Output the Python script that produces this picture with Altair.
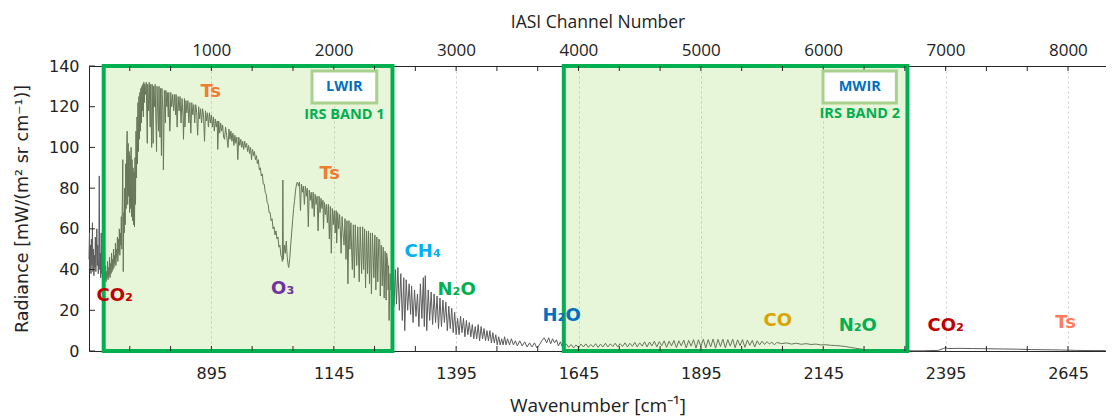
import altair as alt
import pandas as pd

# ---------------- spectrum: (wavenumber cm-1, radiance) ----------------
seg_start = [(645,45),(646,58),(647,40),(648,52),(649,38),(650,55),(651,42),(652,63),(653,39),(654,50),
             (655,37),(656,47),(657,41),(658,56),(659,39),(660,49),(661,60),(662,42),(663,52),(664,38),
             (665,46),(666,86),(667,40),(668,48),(669,36),(670,58),(671,38),(672,45),(673,35),(674,42)]

seg_co2 = [(675,38),(676,34),(677,40),(678,35),(679,42),(680,34),(681,39),(682,36),(683,44),(684,35),
           (685,41),(686,37),(687,46),(688,36),(689,43),(690,38),(691,48),(692,39),(693,45),(694,40),
           (695,50),(696,41),(697,47),(698,43),(699,53),(700,42),(701,50),(702,46),(703,56),(704,44),
           (705,55),(706,48),(707,60),(708,47),(709,58),(710,52),(711,66),(712,50),(713,72),(714,94),
           (715,39),(716,68),(717,58),(718,80),(719,62),(720,92),(721,70),(722,100),(723,108),(724,72),
           (725,102),(726,76),(727,98),(728,68),(729,96),(730,70),(731,100),(732,66),(733,94),(734,64),
           (735,90),(736,62),(737,88),(738,61),(739,95),(740,72),(741,108),(742,85),(743,115),(744,92),
           (745,122),(746,98),(747,125),(748,104),(749,127),(750,108),(751,129),(752,112),(753,130),
           (754,118),(755,131),(756,115),(757,132),(758,122),(759,131),(760,126)]

seg_window = [(762,132),(764,102),(765,131),(767,118),(768,132),(770,110),(771,131),(773,100),(774,131),
              (776,102),(777,130),(779,120),(780,131),(782,110),(783,98),(784,130),(786,115),(787,108),
              (788,130),(790,105),(791,129),(793,96),(794,129),(796,118),(797,89),(799,128),(801,112),
              (802,128),(804,120),(805,127),(807,115),(808,127),(810,108),(811,113),(812,127),(814,120),
              (816,126),(818,118),(820,126),(822,116),(823,126),(825,110),(827,125),(829,118),(831,125),
              (833,112),(835,124),(837,116),(838,104),(840,124),(841,110),(843,123),(845,117),(847,123),
              (849,112),(851,122),(853,107),(855,122),(857,116),(859,121),(861,112),(863,121),(865,117),
              (867,106),(869,120),(871,114),(873,119),(875,112),(877,119),(879,116),(881,103),(883,118),
              (885,113),(887,117),(889,110),(891,117),(893,112),(895,116),(897,110),(899,115),(901,108),
              (903,114),(905,110),(907,113),(908,99),(910,113),(912,107),(914,112),(916,108),(918,111),
              (920,105),(922,104),(924,110),(926,106),(929,100),(931,109),(933,104),(935,108),(937,103),
              (939,107),(941,101),(943,106),(945,102),(947,105),(949,94),(951,105),(953,101),(955,104),
              (957,100),(959,103)]

seg_o3 = [(961,99),(963,103),(965,100),(967,102),(969,98),(971,101),(973,97),(975,100),(977,94),(979,99),
          (981,96),(983,98),(985,94),(987,96),(989,92),(991,94),(993,89),(995,90),(997,86),(999,87),
          (1001,82),(1003,82),(1005,78),(1007,77),(1009,73),(1011,72),(1013,68),(1015,68),(1017,64),
          (1019,65),(1021,60),(1023,61),(1025,57),(1027,59),(1029,55),(1031,56),(1033,51),(1035,52),
          (1037,47),(1039,46),(1040,44),(1041,84),(1042,45),(1044,52),(1046,48),(1048,54),(1050,46),
          (1052,42),(1053,41),(1055,45),(1057,52),(1059,58),(1061,64),(1063,70),(1065,74),(1067,79),
          (1069,82),(1071,83),(1073,81),(1075,83)]

seg_lw_tail = [(1077,69),(1079,82),(1081,78),(1083,81),(1085,72),(1087,81),(1089,76),(1091,80),(1093,61),
               (1095,79),(1097,74),(1099,78),(1101,70),(1103,78),(1105,66),(1107,77),(1109,72),(1111,76),
               (1113,59),(1115,76),(1117,68),(1119,75),(1121,70),(1123,74),(1124,60),(1126,73),(1128,67),
               (1130,72),(1132,63),(1134,72),(1136,55),(1138,71),(1140,48),(1142,70),(1144,62),(1146,69),
               (1148,58),(1150,69),(1151,53),(1153,68),(1155,60),(1157,67),(1159,56),(1160,48),(1162,66),
               (1164,58),(1166,52),(1168,65),(1170,45),(1172,64),(1174,33),(1176,64),(1178,50),(1180,63),
               (1182,46),(1183,40),(1185,62),(1187,36),(1189,62),(1191,48),(1192,42),(1194,61),(1197,34),
               (1199,61),(1201,45),(1202,38),(1204,61),(1206,40),(1208,60),(1210,31),(1212,59),(1214,38),
               (1216,59),(1218,33),(1220,58),(1222,28),(1224,58),(1226,44),(1227,36),(1229,57),(1231,30),
               (1233,56),(1235,34),(1237,55),(1239,54),(1240,27),(1242,52),(1244,32),(1246,51),(1248,26),
               (1250,49),(1252,25),(1253,48),(1255,44),(1256,30),(1257,42),(1258,15),(1260,38),(1262,30),
               (1264,36)]

seg_ch4_n2o = [(1265,38),(1268,22),(1271,40),(1273,23),(1276,41),(1279,20),(1282,38),(1285,15),(1288,36),
               (1290,10),(1293,35),(1296,20),(1299,33),(1302,18),(1304,32),(1307,14),(1310,30),(1313,17),
               (1316,28),(1319,12),(1322,33),(1325,16),(1328,36),(1330,12),(1332,37),(1335,10),(1338,30),
               (1341,15),(1344,29),(1347,13),(1350,28),(1353,14),(1356,27),(1359,11),(1362,26),(1365,12),
               (1368,25),(1371,14),(1374,24),(1377,10),(1380,22),(1383,11),(1386,21),(1389,9),(1392,19),
               (1395,8),(1398,16),(1401,8),(1404,17),(1407,9),(1410,16),(1413,7),(1416,15),(1419,8),
               (1422,14),(1425,7),(1428,13),(1431,6),(1434,12),(1437,6),(1440,13),(1443,5),(1446,12),
               (1449,6),(1452,11),(1455,5),(1458,10),(1461,5),(1464,10),(1467,4),(1470,9),(1473,4),
               (1476,8),(1479,3),(1482,7),(1485,3),(1488,6),(1491,3),(1494,7),(1497,3),(1500,6),(1504,3),
               (1508,6),(1512,3),(1516,5),(1520,2.5),(1525,5),(1530,2.5),(1535,4.5),(1540,2),(1545,4),
               (1550,2),(1555,4),(1560,1.5),(1565,3),(1570,5),(1575,6.5),(1580,4),(1584,6.5),(1588,3.5),
               (1592,6),(1596,4),(1600,5.5),(1604,2.5),(1608,4.5),(1612,2)]

seg_mwir = [(1615,2),(1620,3.5),(1625,1.8),(1630,3.2),(1635,1.5),(1640,3),(1645,1.6),(1650,3.4),(1655,2),
            (1660,3.5),(1665,1.8),(1670,3.2),(1675,2),(1680,3.6),(1685,1.8),(1690,3.4),(1695,2),(1700,3.8),
            (1705,2),(1710,3.5),(1715,2.2),(1720,3.8),(1725,2),(1730,3.6),(1735,2.2),(1740,4),(1745,2),
            (1750,3.8),(1755,2.3),(1760,4.2),(1765,2),(1770,4),(1775,2.4),(1780,4.5),(1785,2),(1790,4.4),
            (1795,2.5),(1800,4.8),(1805,2),(1810,4.6),(1815,2.6),(1820,5),(1825,1.8),(1830,4.8),(1835,2.5),
            (1840,5.2),(1845,1.6),(1850,5),(1855,2.5),(1860,5.4),(1865,1.5),(1870,5.2),(1875,2.4),
            (1880,5.6),(1885,1.4),(1890,5.5),(1895,2.2),(1900,5.8),(1905,1.5),(1910,5.6),(1915,2),
            (1920,5.9),(1925,1.4),(1930,5.7),(1935,2.2),(1940,5.8),(1945,1.5),(1950,5.6),(1955,2.4),
            (1960,5.8),(1965,1.6),(1970,5.5),(1975,2.6),(1980,5.6),(1985,1.8),(1990,5.4),(1995,2.8),
            (2000,5.2),(2005,2),(2010,5),(2015,3),(2020,4.8),(2025,3.2),(2030,4.6),(2035,3.4),(2040,4.4),
            (2045,3),(2050,4.2),(2060,3.6),(2070,4),(2080,3.4),(2090,3.8),(2100,3.3),(2110,3.6),(2120,3.2),
            (2130,3.4),(2140,3.0),(2150,3.1),(2160,2.8),(2170,2.7),(2180,2.5),(2190,2.2),(2200,1.8),
            (2210,1.4),(2220,1.0),(2230,0.7),(2240,0.5),(2250,0.3)]

seg_sw = [(2270,0.2),(2300,0.1),(2350,0.1),(2380,0.3),(2390,1.2),(2395,1.6),(2400,1.2),(2420,1.3),
          (2450,1.2),(2480,1.1),(2510,1.0),(2540,0.9),(2570,0.7),(2600,0.6),(2630,0.5),(2660,0.3),
          (2700,0.2),(2722,0.2)]

# ---------------- axes ----------------
wn_major = [895, 1145, 1395, 1645, 1895, 2145, 2395, 2645]
wn_ticks = [728.3, 811.7, 895, 978.3, 1061.7, 1145, 1228.3, 1311.7, 1395, 1478.3, 1561.7, 1645,
            1728.3, 1811.7, 1895, 1978.3, 2061.7, 2145, 2228.3, 2311.7, 2395, 2478.3, 2561.7, 2645]
ch_major = [1000, 2000, 3000, 4000, 5000, 6000, 7000, 8000]
rad_ticks = [0, 20, 40, 60, 80, 100, 120, 140]

# ---------------- IRS bands ----------------
band_start = [675, 1615]
band_end = [1265, 2317]
band_name = ["LWIR", "MWIR"]
band_sub = ["IRS BAND 1", "IRS BAND 2"]
tag_x1 = [1100.6, 2144.5]
tag_x2 = [1232.8, 2294.4]
tag_xc = [1166.7, 2219.5]
tag_y1 = [121.8, 121.8]
tag_y2 = [137.5, 137.5]
tag_name_y = [129.7, 129.7]
tag_sub_y = [115.9, 116.6]

# ---------------- gas labels ----------------
gas_text = ["Ts", "Ts", "CO₂", "O₃", "CH₄", "N₂O", "H₂O", "CO", "N₂O", "CO₂", "Ts"]
gas_wn = [893.6, 1136.7, 697.5, 1040.7, 1326.7, 1396, 1610.5, 2052, 2215.5, 2395, 2640]
gas_rad = [127.2, 86.9, 27, 30.5, 48.6, 30, 17.2, 14.7, 12.3, 12.3, 13.8]
gas_color = ["#ed7d31", "#ed7d31", "#c00000", "#7030a0", "#00b0f0", "#00b050", "#0070c0",
             "#d9a400", "#00b050", "#c00000", "#ff7c5c"]

# ---------------- build ----------------
W, H = 1017, 285
spec = pd.DataFrame(seg_start + seg_co2 + seg_window + seg_o3 + seg_lw_tail + seg_ch4_n2o + seg_mwir + seg_sw,
                    columns=["wn", "rad"])
bands = pd.DataFrame({"x1": band_start, "x2": band_end, "name": band_name, "sub": band_sub,
                      "tx1": tag_x1, "tx2": tag_x2, "txc": tag_xc, "ty1": tag_y1, "ty2": tag_y2,
                      "ny": tag_name_y, "sy": tag_sub_y})
gases = pd.DataFrame({"t": gas_text, "wn": gas_wn, "rad": gas_rad, "c": gas_color})
xt = pd.DataFrame({"t": wn_ticks})
yt = pd.DataFrame({"r": rad_ticks})

xs = alt.Scale(domain=[645, 2722.6], nice=False, zero=False)
ys = alt.Scale(domain=[0, 140], nice=False, zero=False)
AX = "#262626"

xaxis = alt.Axis(values=wn_major, format="d", grid=True, gridDash=[2, 3], gridColor="#cfcfcf",
                 ticks=False, labelFont="DejaVu Sans", labelFontSize=16, labelPadding=14,
                 labelColor="#222222", domainColor=AX, title="Wavenumber [cm⁻¹]",
                 titleFont="Open Sans", titleFontSize=19, titleFontWeight="normal",
                 titlePadding=15, titleColor="#222222")
yaxis = alt.Axis(values=rad_ticks, grid=False, ticks=False, labelFont="DejaVu Sans", labelFontSize=16,
                 labelPadding=10, labelColor="#222222", domainColor=AX,
                 title="Radiance [mW/(m² sr cm⁻¹)]", titleFont="DejaVu Sans", titleFontSize=17.5,
                 titleFontWeight="normal", titlePadding=17, titleColor="#222222")


def X(f):
    return alt.X(f, scale=xs, axis=xaxis)


def Y(f):
    return alt.Y(f, scale=ys, axis=yaxis)


line = alt.Chart(spec).mark_line(color="#5c5c5c", strokeWidth=1).encode(x=X("wn:Q"), y=Y("rad:Q"))
band_fill = alt.Chart(bands).mark_rect(color="#92d050", opacity=0.22).encode(
    x=X("x1:Q"), x2="x2:Q", y=alt.value(0), y2=alt.value(H))
band_edge = alt.Chart(bands).mark_rect(fillOpacity=0, stroke="#00b050", strokeWidth=4).encode(
    x=X("x1:Q"), x2="x2:Q", y=alt.value(0), y2=alt.value(H))
tick_b = alt.Chart(xt).mark_rule(color=AX).encode(x=X("t:Q"), y=alt.value(H), y2=alt.value(H - 5))
tick_t = alt.Chart(xt).mark_rule(color=AX).encode(x=X("t:Q"), y=alt.value(0), y2=alt.value(5))
tick_l = alt.Chart(yt).mark_rule(color=AX).encode(y=Y("r:Q"), x=alt.value(0), x2=alt.value(6))
tag_box = alt.Chart(bands).mark_rect(fill="white", stroke="#a9d18e", strokeWidth=3).encode(
    x=X("tx1:Q"), x2="tx2:Q", y=Y("ty1:Q"), y2="ty2:Q")
tag_name = alt.Chart(bands).mark_text(font="Open Sans", fontWeight="bold", fontSize=14.5,
                                      color="#0070c0").encode(x=X("txc:Q"), y=Y("ny:Q"), text="name:N")
tag_sub = alt.Chart(bands).mark_text(font="Open Sans", fontWeight="bold", fontSize=14.5,
                                     color="#00b050").encode(x=X("txc:Q"), y=Y("sy:Q"), text="sub:N")
gas = alt.Chart(gases).mark_text(font="DejaVu Sans", fontWeight="bold", fontSize=18).encode(
    x=X("wn:Q"), y=Y("rad:Q"), text="t:N", color=alt.Color("c:N", scale=None))

inner = alt.layer(line, band_fill, band_edge, tick_b, tick_t, tick_l, tag_box, tag_name, tag_sub, gas)

top = alt.Chart(pd.DataFrame({"ch": ch_major})).mark_tick(opacity=0).encode(
    x=alt.X("ch:Q", scale=alt.Scale(domain=[1, 8311.4], nice=False, zero=False),
            axis=alt.Axis(orient="top", values=ch_major, format="d", grid=False, ticks=False,
                          labelFont="Open Sans", labelFontSize=17, labelPadding=7,
                          labelColor="#222222", domainColor=AX, title="IASI Channel Number",
                          titleFont="Open Sans", titleFontSize=17.5, titleFontWeight="normal",
                          titlePadding=10, titleColor="#222222")))

chart = alt.layer(inner, top).resolve_scale(x="independent").properties(
    width=W, height=H,
    autosize=alt.AutoSizeParams(type="none"),
    padding={"left": 81, "top": 58, "right": 0, "bottom": 66},
).configure_view(stroke=None)

chart.save("out.html", embed_options={"renderer": "svg", "actions": False})
